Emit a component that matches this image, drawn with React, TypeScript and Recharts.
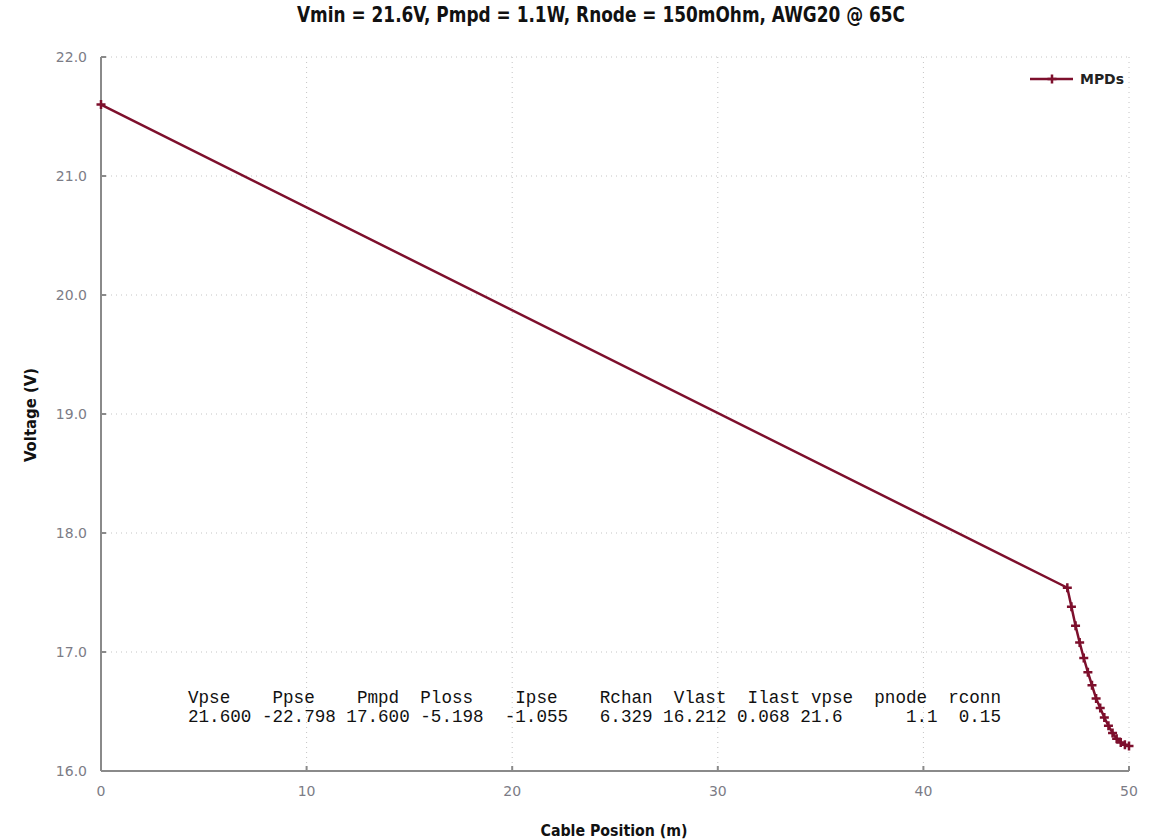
import React from "react";
import { LineChart, Line, XAxis, YAxis, CartesianGrid, Legend } from "recharts";

// cable position (m) and node voltage (V)
const cablePos = [0, 47, 47.2, 47.4, 47.6, 47.8, 48, 48.2, 48.4, 48.6, 48.8, 49, 49.2, 49.4, 49.6, 49.8, 50];
const voltage = [21.6, 17.54, 17.38, 17.22, 17.08, 16.95, 16.83, 16.72, 16.61, 16.53, 16.45, 16.38, 16.32, 16.27, 16.24, 16.22, 16.21];

const xTicks = [0, 10, 20, 30, 40, 50];
const yTicks = [16, 17, 18, 19, 20, 21, 22];

const titleText = "Vmin = 21.6V, Pmpd = 1.1W, Rnode = 150mOhm, AWG20 @ 65C";
const statsHeader = "Vpse    Ppse    Pmpd  Ploss    Ipse    Rchan  Vlast  Ilast vpse  pnode  rconn";
const statsValues = "21.600 -22.798 17.600 -5.198  -1.055   6.329 16.212 0.068 21.6      1.1  0.15";

const LINE_COLOR = "#7d0f2c";
const narrow = "'Liberation Sans Narrow', 'DejaVu Sans Condensed', 'DejaVu Sans', sans-serif";
const mono = "'Liberation Mono', 'DejaVu Sans Mono', monospace";

const data = cablePos.map((x, i) => ({ x, v: voltage[i] }));

const PlusDot = (props: any) => {
  const { cx, cy, index } = props;
  if (cx == null || cy == null) return null;
  return (
    <path
      key={`d-${index}`}
      d={`M${cx - 4.5},${cy} L${cx + 4.5},${cy} M${cx},${cy - 4.5} L${cx},${cy + 4.5}`}
      stroke={LINE_COLOR}
      strokeWidth={2.5}
    />
  );
};

const LegendBox = () => (
  <svg width={110} height={20}>
    <line x1={2} y1={10} x2={45} y2={10} stroke={LINE_COLOR} strokeWidth={2.5} />
    <path d="M19.5,10 L28.5,10 M24,5.5 L24,14.5" stroke={LINE_COLOR} strokeWidth={2.5} />
    <text x={52} y={15} fontFamily={narrow} fontWeight="bold" fontSize={14} fill="#222"
      textLength={44} lengthAdjust="spacingAndGlyphs">MPDs</text>
  </svg>
);

const tickStyle = { fill: "#7c7c86", fontSize: 14, fontFamily: "'DejaVu Sans', Verdana, sans-serif" };

export default function App() {
  return (
    <div style={{ position: "absolute", left: 0, top: 0, width: 1161, height: 839, background: "#fff" }}>
      <LineChart width={1161} height={839} data={data} margin={{ top: 57, right: 32, left: 0, bottom: 28 }}>
        <CartesianGrid stroke="#c4c4c4" strokeDasharray="1 4" />
        <XAxis
          type="number"
          dataKey="x"
          domain={[0, 50]}
          ticks={xTicks}
          height={40}
          stroke="#8a8a8a"
          strokeWidth={2}
          tickSize={-5}
          tickMargin={20}
          tick={tickStyle}
        />
        <YAxis
          type="number"
          domain={[16, 22]}
          ticks={yTicks}
          width={101}
          stroke="#8a8a8a"
          strokeWidth={2}
          tickSize={-5}
          tickMargin={19}
          tickFormatter={(v: number) => v.toFixed(1)}
          tick={tickStyle}
        />
        <Legend
          layout="horizontal"
          verticalAlign="middle"
          align="center"
          content={() => <LegendBox />}
          wrapperStyle={{ left: 1028, top: 69, width: 110, height: 20 }}
        />
        <Line
          name="MPDs"
          type="linear"
          dataKey="v"
          stroke={LINE_COLOR}
          strokeWidth={2.5}
          dot={<PlusDot />}
          activeDot={false}
          isAnimationActive={false}
        />
      </LineChart>
      <svg width={1161} height={839} style={{ position: "absolute", left: 0, top: 0, pointerEvents: "none" }}>
        <text x={601} y={21.5} textAnchor="middle" fontFamily={narrow} fontWeight="bold" fontSize={20.5} fill="#111"
          textLength={608} lengthAdjust="spacingAndGlyphs">{titleText}</text>
        <text x={614} y={836} textAnchor="middle" fontFamily={narrow} fontWeight="bold" fontSize={16} fill="#111"
          textLength={147} lengthAdjust="spacingAndGlyphs">Cable Position (m)</text>
        <text x={36} y={415} textAnchor="middle" transform="rotate(-90 36 415)" fontFamily={narrow} fontWeight="bold"
          fontSize={16} fill="#111" textLength={94} lengthAdjust="spacingAndGlyphs">Voltage (V)</text>
        <text x={188} y={703} fontFamily={mono} fontSize={17.6} fill="#111"
          style={{ whiteSpace: "pre" }} xmlSpace="preserve">{statsHeader}</text>
        <text x={188} y={722} fontFamily={mono} fontSize={17.6} fill="#111"
          style={{ whiteSpace: "pre" }} xmlSpace="preserve">{statsValues}</text>
      </svg>
    </div>
  );
}
